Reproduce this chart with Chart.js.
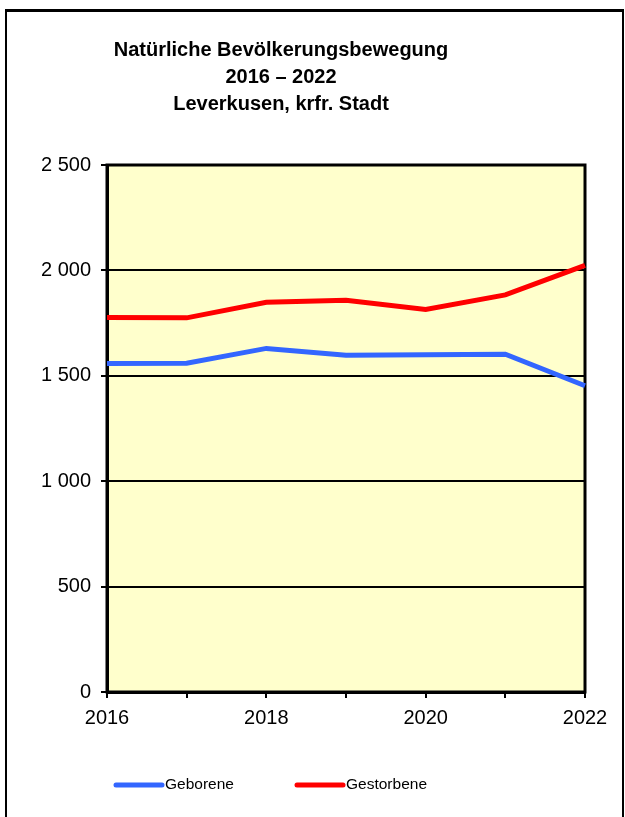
<!DOCTYPE html>
<html>
<head>
<meta charset="utf-8">
<script src="https://cdn.jsdelivr.net/npm/chart.js@4"></script>
<style>
  html, body { margin: 0; padding: 0; background: #fff; }
  #frame {
    position: absolute; left: 5px; top: 9px; width: 615px; height: 900px;
    border-top: 3px solid #000; border-left: 2px solid #000; border-right: 2px solid #000;
  }
  #chart { position: absolute; left: 0; top: 0; }
</style>
</head>
<body>
<div id="frame"></div>
<canvas id="chart" width="625" height="817"></canvas>
<script>
const years = ['2016', '2017', '2018', '2019', '2020', '2021', '2022'];
const geborene = [1558, 1560, 1630, 1597, 1600, 1602, 1453];
const gestorbene = [1777, 1775, 1849, 1858, 1815, 1884, 2024];
const titleLines = ['Natürliche Bevölkerungsbewegung', '2016 – 2022', 'Leverkusen, krfr. Stadt'];

const FONT = "'Liberation Sans', Arial, sans-serif";

// yellow plot background + frame round the plot
const plotArea = {
  id: 'plotArea',
  beforeDraw(chart) {
    const { ctx, chartArea: a } = chart;
    ctx.save();
    ctx.fillStyle = '#FFFFCC';
    ctx.fillRect(a.left, a.top, a.right - a.left, a.bottom - a.top);
    ctx.restore();
  },
  beforeDatasetsDraw(chart) {
    const { ctx, chartArea: a } = chart;
    ctx.save();
    ctx.strokeStyle = '#000';
    ctx.lineWidth = 3;
    ctx.strokeRect(a.left, a.top, a.right - a.left, a.bottom - a.top);
    ctx.restore();
  }
};

// title and legend drawn where the original has them
const texts = {
  id: 'texts',
  afterDraw(chart) {
    const ctx = chart.ctx;
    ctx.save();
    ctx.fillStyle = '#000';
    ctx.textAlign = 'center';
    ctx.textBaseline = 'middle';
    ctx.font = 'bold 20px ' + FONT;
    titleLines.forEach((t, i) => ctx.fillText(t, 281, 50 + i * 27));

    const legendX = [116, 297];
    ctx.font = '15.5px ' + FONT;
    ctx.textAlign = 'left';
    chart.data.datasets.forEach((ds, i) => {
      const x = legendX[i], y = 785;
      ctx.strokeStyle = ds.borderColor;
      ctx.lineWidth = 5;
      ctx.lineCap = 'round';
      ctx.beginPath();
      ctx.moveTo(x, y);
      ctx.lineTo(x + 46, y);
      ctx.stroke();
      ctx.fillText(ds.label, x + 49, y);
    });
    ctx.restore();
  }
};

new Chart(document.getElementById('chart'), {
  type: 'line',
  data: {
    labels: years,
    datasets: [
      { label: 'Geborene', data: geborene, borderColor: '#3366FF', borderWidth: 5, pointRadius: 0, tension: 0 },
      { label: 'Gestorbene', data: gestorbene, borderColor: '#FF0000', borderWidth: 5, pointRadius: 0, tension: 0 }
    ]
  },
  options: {
    responsive: false,
    animation: false,
    layout: { padding: { top: 165, right: 40, bottom: 85, left: 0 } },
    plugins: {
      legend: { display: false },
      title: { display: false },
      tooltip: { enabled: false }
    },
    scales: {
      x: {
        offset: false,
        afterFit(scale) { scale.height = 40; },
        grid: { drawOnChartArea: false, drawTicks: true, tickLength: 6, color: '#000', lineWidth: 2 },
        border: { display: true, color: '#000', width: 3 },
        ticks: {
          color: '#000',
          font: { family: FONT, size: 20 },
          padding: 8,
          maxRotation: 0,
          autoSkip: false,
          callback(v, i) { return i % 2 === 0 ? years[i] : ''; }
        }
      },
      y: {
        min: 0,
        max: 2500,
        afterFit(scale) { scale.width = 107; },
        grid: { color: '#000', lineWidth: 2, tickLength: 6 },
        border: { display: true, color: '#000', width: 3 },
        ticks: {
          stepSize: 500,
          color: '#000',
          font: { family: FONT, size: 20 },
          padding: 10,
          callback(v) {
            return v >= 1000 ? Math.floor(v / 1000) + ' ' + String(v % 1000).padStart(3, '0') : String(v);
          }
        }
      }
    }
  },
  plugins: [plotArea, texts]
});
</script>
</body>
</html>
